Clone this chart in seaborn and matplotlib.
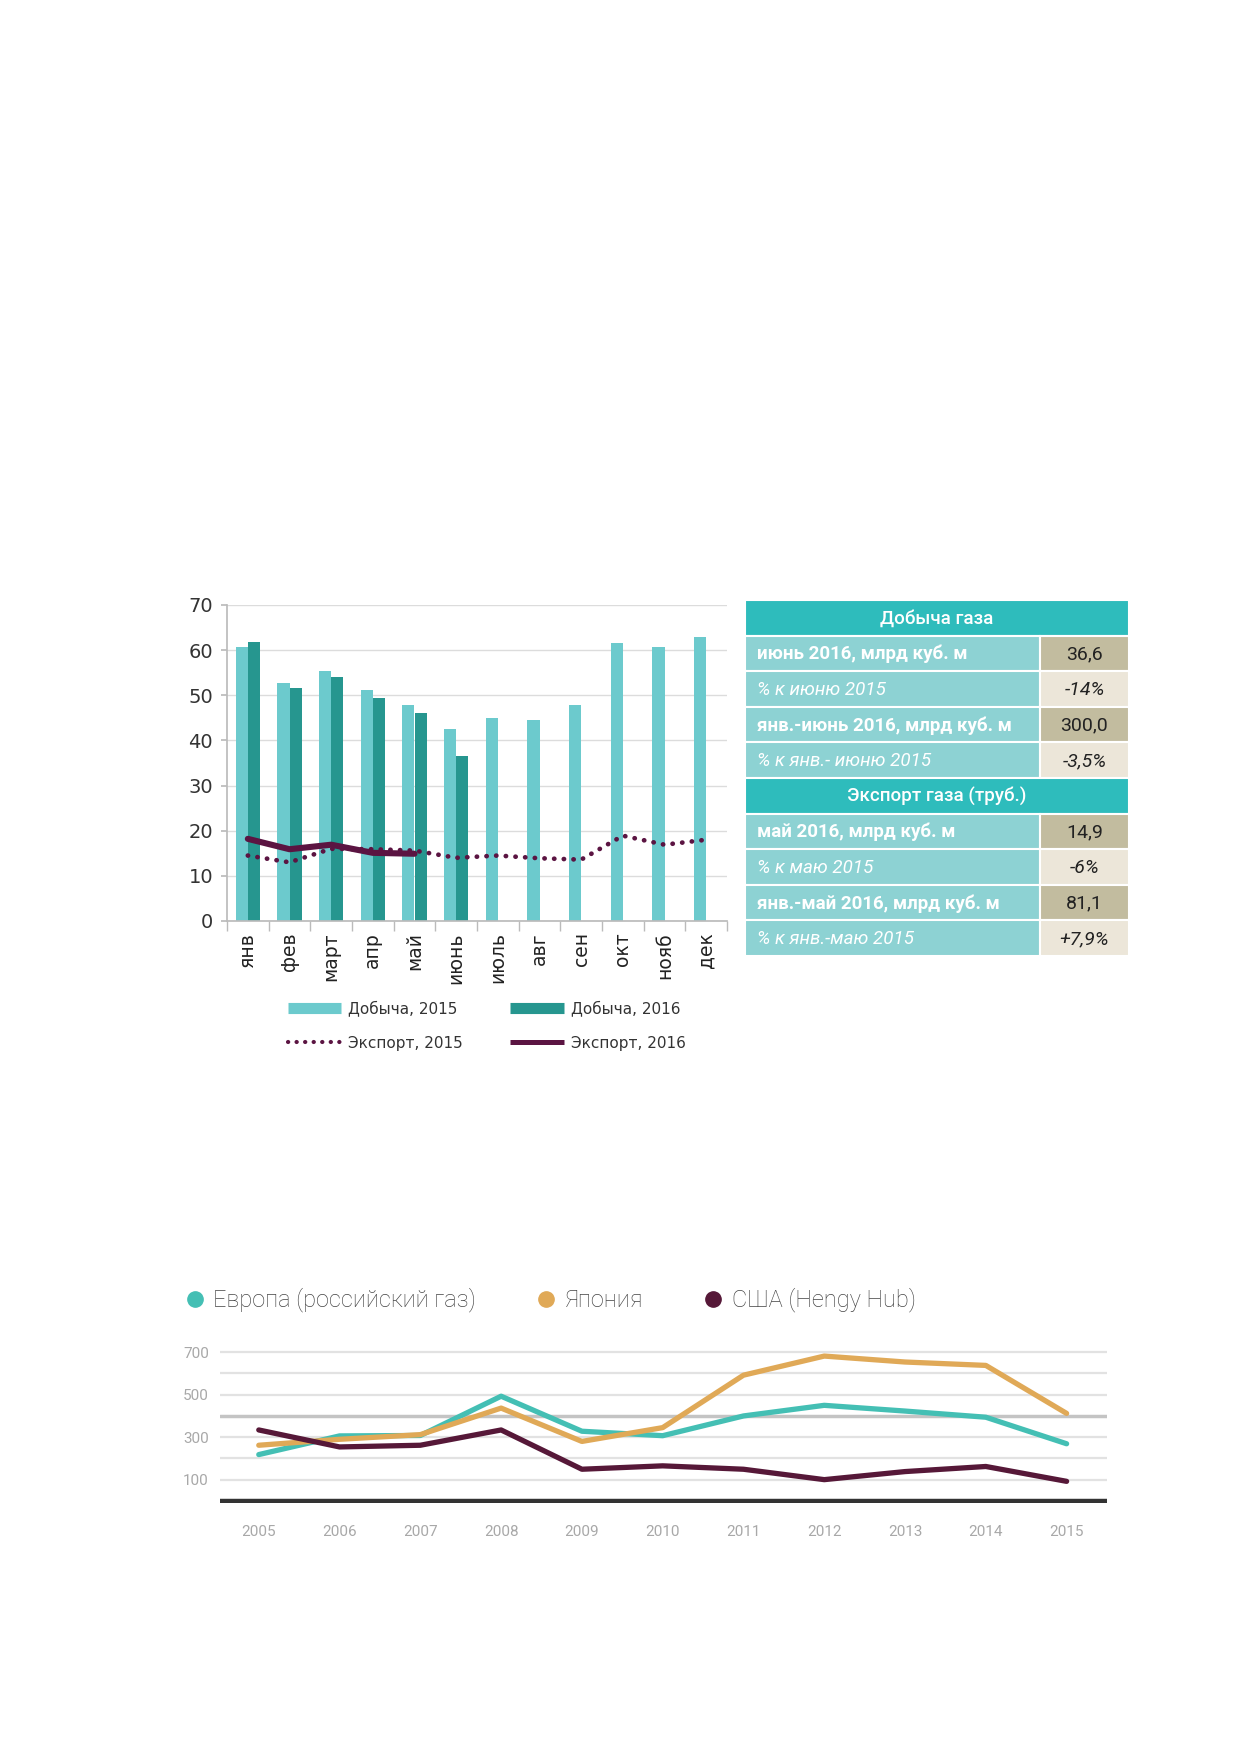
import numpy as np
import pandas as pd
import seaborn as sns
import matplotlib.pyplot as plt
from matplotlib.lines import Line2D
from matplotlib.patches import Rectangle

# ---- data: chart 1 (production / export, bcm) ----
months = ["янв", "фев", "март", "апр", "май", "июнь", "июль", "авг", "сен", "окт", "нояб", "дек"]
prod_2015 = [60.6, 52.8, 55.3, 51.2, 47.9, 42.6, 44.9, 44.6, 47.9, 61.5, 60.6, 63.0]
prod_2016 = [61.9, 51.7, 54.0, 49.5, 46.0, 36.6, np.nan, np.nan, np.nan, np.nan, np.nan, np.nan]
exp_2015 = [14.5, 13.0, 16.0, 15.9, 15.6, 14.0, 14.5, 13.9, 13.6, 18.9, 16.9, 18.0]
exp_2016 = [18.2, 15.9, 16.9, 15.1, 14.9]

# ---- data: table ----
table_rows = [
    ("header", "Добыча газа", ""),
    ("bold", "июнь 2016, млрд куб. м", "36,6"),
    ("italic", "% к июню 2015", "-14%"),
    ("bold", "янв.-июнь 2016, млрд куб. м", "300,0"),
    ("italic", "% к янв.- июню 2015", "-3,5%"),
    ("header", "Экспорт газа (труб.)", ""),
    ("bold", "май 2016, млрд куб. м", "14,9"),
    ("italic", "% к маю 2015", "-6%"),
    ("bold", "янв.-май 2016, млрд куб. м", "81,1"),
    ("italic", "% к янв.-маю 2015", "+7,9%"),
]

# ---- data: chart 2 (gas prices) ----
years = list(range(2005, 2016))
europe = [218, 306, 308, 493, 328, 307, 400, 450, 423, 394, 269]
japan = [262, 290, 312, 437, 280, 345, 592, 682, 654, 638, 412]
usa = [334, 254, 262, 334, 149, 165, 149, 100, 138, 162, 92]
price_ticks = [100, 300, 500, 700]

W, H = 1241, 1754
LIGHT = "#6ccacd"
DARK = "#26968f"
PLUM = "#5b1442"
NARROW = ["Roboto", "DejaVu Sans"]

sns.set_theme(style="white")
plt.rcParams["font.family"] = ["DejaVu Sans"]

fig = plt.figure(figsize=(W / 100, H / 100), dpi=100)


def px_axes(left, top, right, bottom):
    return fig.add_axes([left / W, 1 - bottom / H, (right - left) / W, (bottom - top) / H])


# =============== chart 1 ===============
ax = px_axes(227, 605, 727, 921)
bars = pd.DataFrame({
    "month": months * 2,
    "value": prod_2015 + prod_2016,
    "series": ["Добыча, 2015"] * 12 + ["Добыча, 2016"] * 12,
})
sns.barplot(data=bars, x="month", y="value", hue="series", order=months,
            palette=[LIGHT, DARK], width=0.58, errorbar=None, legend=False,
            saturation=1, linewidth=0, edgecolor="none", ax=ax)
dots = (0, (0.05, 2.0))
sns.lineplot(x=np.arange(12), y=exp_2015, color=PLUM, lw=3.4,
             linestyle=dots, dash_capstyle="round", ax=ax)
sns.lineplot(x=np.arange(5), y=exp_2016, color=PLUM, lw=4.4, ax=ax)

ax.set_xlim(-0.5, 11.5)
ax.set_ylim(0, 70)
ax.set_yticks(range(0, 71, 10))
ax.grid(axis="y", color="#dcdcdc", lw=1)
ax.set_axisbelow(True)
for s in ["top", "right"]:
    ax.spines[s].set_visible(False)
ax.spines["left"].set_color("#bbbbbb")
ax.spines["bottom"].set_color("#bbbbbb")
ax.set_xlabel("")
ax.set_ylabel("")
ax.tick_params(axis="y", labelsize=14, colors="#333333", length=4, color="#bbbbbb", pad=6, left=True)
ax.tick_params(axis="x", which="major", length=0, pad=8, labelsize=13.5, labelcolor="#222222")
ax.set_xticks(np.arange(-0.5, 12, 1), minor=True)
ax.tick_params(axis="x", which="minor", length=7, color="#bbbbbb", bottom=True)
plt.setp(ax.get_xticklabels(), rotation=90, va="top", ha="center")

handles = [
    Line2D([], [], color=LIGHT, lw=8, solid_capstyle="butt"),
    Line2D([], [], color=PLUM, lw=3.0, linestyle=dots, dash_capstyle="round"),
    Line2D([], [], color=DARK, lw=8, solid_capstyle="butt"),
    Line2D([], [], color=PLUM, lw=3.6, solid_capstyle="butt"),
]
labels = ["Добыча, 2015", "Экспорт, 2015", "Добыча, 2016", "Экспорт, 2016"]
fig.legend(handles, labels, ncol=2, loc="upper left", bbox_to_anchor=(274 / W, 1 - 987 / H),
           frameon=False, fontsize=11, handlelength=3.5, handletextpad=0.45,
           columnspacing=3.1, labelspacing=1.25, labelcolor="#333333")

# =============== table ===============
tax = px_axes(745, 600, 1129, 956)
tax.set_xlim(0, 1)
tax.set_ylim(len(table_rows), 0)
tax.axis("off")
split = 0.768
for i, (kind, label, value) in enumerate(table_rows):
    if kind == "header":
        tax.add_patch(Rectangle((0, i), 1, 1, fc="#2ebcbc", ec="white", lw=1.5))
        tax.text(0.5, i + 0.52, label, ha="center", va="center", color="white",
                 fontsize=13.5, family=NARROW, weight="medium")
        continue
    val_bg = "#c2bc9f" if kind == "bold" else "#ece6d9"
    tax.add_patch(Rectangle((0, i), split, 1, fc="#8dd2d3", ec="white", lw=1.5))
    tax.add_patch(Rectangle((split, i), 1 - split, 1, fc=val_bg, ec="white", lw=1.5))
    style = "italic" if kind == "italic" else "normal"
    weight = "bold" if kind == "bold" else "normal"
    tax.text(0.03, i + 0.52, label, ha="left", va="center", color="white",
             fontsize=13.5, family=NARROW, style=style, weight=weight)
    tax.text((1 + split) / 2, i + 0.52, value, ha="center", va="center", color="#222222",
             fontsize=14, family=NARROW, style=style)

# =============== chart 2 ===============
bx = px_axes(220, 1348, 1107, 1503)
prices = pd.DataFrame({
    "year": years * 3,
    "price": europe + japan + usa,
    "region": ["Европа (российский газ)"] * 11 + ["Япония"] * 11 + ["США (Hengy Hub)"] * 11,
})
for y in range(100, 701, 100):
    bx.axhline(y, color="#c4c4c4" if y == 400 else "#e2e2e2", lw=2.5 if y == 400 else 1.6, zorder=0)
bx.axhline(0, color="#333333", lw=3.2, zorder=1)
colors2 = ["#44bfb4", "#e0a957", "#561838"]
sns.lineplot(data=prices, x="year", y="price", hue="region", palette=colors2,
             lw=3.8, legend=False, ax=bx)
bx.set_xlim(2004.52, 2015.5)
bx.set_ylim(-10, 720)
bx.set_xticks(years)
bx.set_yticks(price_ticks)
bx.set_xlabel("")
bx.set_ylabel("")
for s in bx.spines.values():
    s.set_visible(False)
bx.tick_params(axis="both", length=0, labelsize=11, labelcolor="#a8a8a8")
bx.tick_params(axis="x", pad=16)
bx.tick_params(axis="y", pad=8)
for t in bx.get_xticklabels() + bx.get_yticklabels():
    t.set_family(NARROW)

handles2 = [Line2D([], [], marker="o", color=c, lw=0, markersize=11) for c in colors2]
fig.legend(handles2, prices["region"].unique(), ncol=3, loc="center left",
           bbox_to_anchor=(165 / W, 1 - 1300 / H), frameon=False,
           prop={"family": NARROW, "size": 17, "weight": "light"}, labelcolor="#444444",
           handlelength=0.7, handletextpad=0.45, columnspacing=2.6)

fig.savefig("out.png", dpi=100, facecolor="white")
